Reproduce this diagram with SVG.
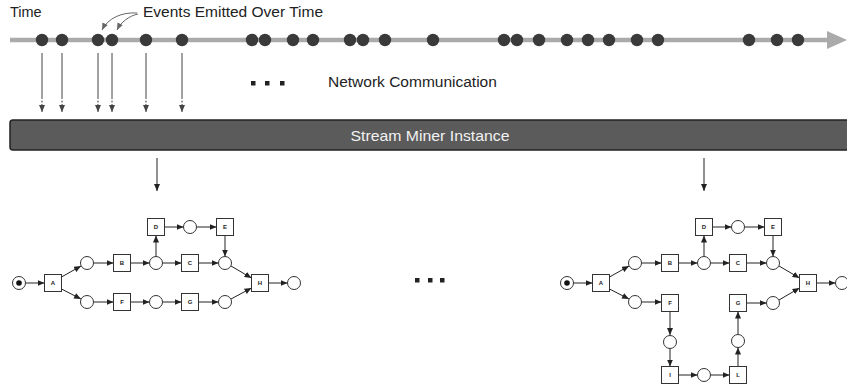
<svg xmlns="http://www.w3.org/2000/svg" width="847" height="387" viewBox="0 0 847 387">
<style>
.lbl{font-family:"Liberation Sans",Arial,sans-serif;fill:#222}
.dot{fill:#3a3a3a}
.pl{fill:#fff;stroke:#333;stroke-width:1}
.tr{fill:#fff;stroke:#333;stroke-width:1}
.tl{font-family:"Liberation Sans",Arial,sans-serif;font-size:6px;font-weight:bold;fill:#222;text-anchor:middle}
.arc{stroke:#222;stroke-width:1;fill:none;marker-end:url(#ah)}
.ev{stroke:#444;stroke-width:1;fill:none}
.evd{stroke:#444;stroke-width:1;fill:none;stroke-dasharray:2,1.5}
</style>
<defs>
<marker id="ah" markerUnits="userSpaceOnUse" markerWidth="8" markerHeight="6" refX="7" refY="3" orient="auto"><path d="M0,0 L7,3 L0,6 z" fill="#222"/></marker>
<marker id="ahg" markerUnits="userSpaceOnUse" markerWidth="8" markerHeight="6" refX="7" refY="3" orient="auto"><path d="M0,0 L7,3 L0,6 z" fill="#444"/></marker>
<marker id="ahc" markerUnits="userSpaceOnUse" markerWidth="8" markerHeight="6" refX="7" refY="3" orient="auto"><path d="M0,0 L7,3 L0,6 z" fill="#666"/></marker>
</defs>

<g id="timeline">
<line x1="10" y1="40" x2="830" y2="40" stroke="#aaa" stroke-width="4.5"/>
<polygon points="827,31 847,40 827,49" fill="#aaa"/>
<g class="dot">
<circle cx="42" cy="40" r="6.2"/><circle cx="62" cy="40" r="6.2"/><circle cx="98" cy="40" r="6.2"/><circle cx="112" cy="40" r="6.2"/>
<circle cx="146" cy="40" r="6.2"/><circle cx="182" cy="40" r="6.2"/><circle cx="252" cy="40" r="6.2"/><circle cx="265" cy="40" r="6.2"/>
<circle cx="293" cy="40" r="6.2"/><circle cx="313" cy="40" r="6.2"/><circle cx="350" cy="40" r="6.2"/><circle cx="363" cy="40" r="6.2"/>
<circle cx="385" cy="40" r="6.2"/><circle cx="433" cy="40" r="6.2"/><circle cx="504" cy="40" r="6.2"/><circle cx="517" cy="40" r="6.2"/>
<circle cx="539" cy="40" r="6.2"/><circle cx="567" cy="40" r="6.2"/><circle cx="588" cy="40" r="6.2"/><circle cx="609" cy="40" r="6.2"/>
<circle cx="637" cy="40" r="6.2"/><circle cx="658" cy="40" r="6.2"/><circle cx="749" cy="40" r="6.2"/><circle cx="777" cy="40" r="6.2"/>
<circle cx="798" cy="40" r="6.2"/>
</g>
</g>

<text class="lbl" x="10" y="17" font-size="14.5">Time</text>
<text class="lbl" x="143" y="17" font-size="15.5">Events Emitted Over Time</text>
<text class="lbl" x="328" y="87" font-size="15.5">Network Communication</text>

<g id="ellipsis-top" fill="#222">
<rect x="251" y="81" width="4.5" height="4.5"/><rect x="265" y="81" width="4.5" height="4.5"/><rect x="280" y="81" width="4.5" height="4.5"/>
</g>

<g id="stream-miner">
<rect x="10" y="120" width="850" height="30" rx="3" fill="#5b5b5b" stroke="#222" stroke-width="1.5"/>
<text x="430" y="141" font-family="'Liberation Sans',Arial,sans-serif" font-size="15" fill="#f2f2f2" text-anchor="middle" textLength="159" lengthAdjust="spacingAndGlyphs">Stream Miner Instance</text>
</g>

<g id="ellipsis-mid" fill="#222">
<rect x="415" y="278" width="4.5" height="4.5"/><rect x="428" y="278" width="4.5" height="4.5"/><rect x="440" y="278" width="4.5" height="4.5"/>
</g>

<g id="connectors">
<path d="M137,13 C122,12 108,18 102,30" stroke="#666" stroke-width="1" fill="none" marker-end="url(#ahc)"/>
<path d="M138,14 C129,16 121,22 117,30" stroke="#666" stroke-width="1" fill="none" marker-end="url(#ahc)"/>
<g>
<line class="ev" x1="42" y1="53" x2="42" y2="97"/><line class="evd" x1="42" y1="97" x2="42" y2="106"/><line class="ev" x1="42" y1="106" x2="42" y2="112" marker-end="url(#ahg)"/>
<line class="ev" x1="62" y1="53" x2="62" y2="97"/><line class="evd" x1="62" y1="97" x2="62" y2="106"/><line class="ev" x1="62" y1="106" x2="62" y2="112" marker-end="url(#ahg)"/>
<line class="ev" x1="98" y1="53" x2="98" y2="97"/><line class="evd" x1="98" y1="97" x2="98" y2="106"/><line class="ev" x1="98" y1="106" x2="98" y2="112" marker-end="url(#ahg)"/>
<line class="ev" x1="112" y1="53" x2="112" y2="97"/><line class="evd" x1="112" y1="97" x2="112" y2="106"/><line class="ev" x1="112" y1="106" x2="112" y2="112" marker-end="url(#ahg)"/>
<line class="ev" x1="146" y1="53" x2="146" y2="97"/><line class="evd" x1="146" y1="97" x2="146" y2="106"/><line class="ev" x1="146" y1="106" x2="146" y2="112" marker-end="url(#ahg)"/>
<line class="ev" x1="182" y1="53" x2="182" y2="97"/><line class="evd" x1="182" y1="97" x2="182" y2="106"/><line class="ev" x1="182" y1="106" x2="182" y2="112" marker-end="url(#ahg)"/>
</g>
<line class="arc" x1="157" y1="158" x2="157" y2="191"/>
<line class="arc" x1="704" y1="158" x2="704" y2="191"/>

<g id="arcs-left">
<line class="arc" x1="25.5" y1="283" x2="44.5" y2="283"/>
<line class="arc" x1="61.5" y1="277" x2="81" y2="266"/>
<line class="arc" x1="61.5" y1="289" x2="81" y2="299"/>
<line class="arc" x1="93.5" y1="263" x2="113.5" y2="263"/>
<line class="arc" x1="130.5" y1="263" x2="149.5" y2="263"/>
<line class="arc" x1="156" y1="256.5" x2="156" y2="235.5"/>
<line class="arc" x1="164.5" y1="227" x2="183.5" y2="227"/>
<line class="arc" x1="196.5" y1="227" x2="216.5" y2="227"/>
<line class="arc" x1="225" y1="235.5" x2="225" y2="256.5"/>
<line class="arc" x1="162.5" y1="263" x2="181.5" y2="263"/>
<line class="arc" x1="198.5" y1="263" x2="218.5" y2="263"/>
<line class="arc" x1="231" y1="266" x2="251.5" y2="278"/>
<line class="arc" x1="93.5" y1="302" x2="113.5" y2="302"/>
<line class="arc" x1="130.5" y1="302" x2="149.5" y2="302"/>
<line class="arc" x1="162.5" y1="302" x2="181.5" y2="302"/>
<line class="arc" x1="198.5" y1="302" x2="218.5" y2="302"/>
<line class="arc" x1="231" y1="299" x2="251.5" y2="288"/>
<line class="arc" x1="268.5" y1="283" x2="287.5" y2="283"/>
</g>
<g id="arcs-right" transform="translate(548,0)">
<line class="arc" x1="25.5" y1="283" x2="44.5" y2="283"/>
<line class="arc" x1="61.5" y1="277" x2="81" y2="266"/>
<line class="arc" x1="61.5" y1="289" x2="81" y2="299"/>
<line class="arc" x1="93.5" y1="263" x2="113.5" y2="263"/>
<line class="arc" x1="130.5" y1="263" x2="149.5" y2="263"/>
<line class="arc" x1="156" y1="256.5" x2="156" y2="235.5"/>
<line class="arc" x1="164.5" y1="227" x2="183.5" y2="227"/>
<line class="arc" x1="196.5" y1="227" x2="216.5" y2="227"/>
<line class="arc" x1="225" y1="235.5" x2="225" y2="256.5"/>
<line class="arc" x1="162.5" y1="263" x2="181.5" y2="263"/>
<line class="arc" x1="198.5" y1="263" x2="218.5" y2="263"/>
<line class="arc" x1="231" y1="266" x2="251.5" y2="278"/>
<line class="arc" x1="93.5" y1="302" x2="113.5" y2="302"/>
<line class="arc" x1="122" y1="311.5" x2="122" y2="335"/>
<line class="arc" x1="122" y1="348.5" x2="122" y2="366.5"/>
<line class="arc" x1="130.5" y1="375" x2="149.5" y2="375"/>
<line class="arc" x1="162.5" y1="375" x2="181.5" y2="375"/>
<line class="arc" x1="190" y1="366.5" x2="190" y2="347.5"/>
<line class="arc" x1="190" y1="334.5" x2="190" y2="311.5"/>
<line class="arc" x1="198.5" y1="303" x2="218.5" y2="303"/>
<line class="arc" x1="231" y1="300" x2="251.5" y2="288"/>
<line class="arc" x1="268.5" y1="283" x2="287.5" y2="283"/>
</g>
</g>

<g id="net-left">
<g id="L-start"><circle class="pl" cx="19" cy="283" r="6.5"/><circle cx="19" cy="283" r="2.8" fill="#111"/></g>
<g id="L-A"><rect class="tr" x="44.5" y="274.5" width="17" height="17"/><text class="tl" x="53" y="285">A</text></g>
<g id="L-p1"><circle class="pl" cx="87" cy="263" r="6.5"/></g>
<g id="L-p2"><circle class="pl" cx="87" cy="302" r="6.5"/></g>
<g id="L-B"><rect class="tr" x="113.5" y="254.5" width="17" height="17"/><text class="tl" x="122" y="265">B</text></g>
<g id="L-F"><rect class="tr" x="113.5" y="293.5" width="17" height="17"/><text class="tl" x="122" y="304">F</text></g>
<g id="L-p3"><circle class="pl" cx="156" cy="263" r="6.5"/></g>
<g id="L-p4"><circle class="pl" cx="156" cy="302" r="6.5"/></g>
<g id="L-D"><rect class="tr" x="147.5" y="218.5" width="17" height="17"/><text class="tl" x="156" y="229">D</text></g>
<g id="L-p5"><circle class="pl" cx="190" cy="227" r="6.5"/></g>
<g id="L-E"><rect class="tr" x="216.5" y="218.5" width="17" height="17"/><text class="tl" x="225" y="229">E</text></g>
<g id="L-C"><rect class="tr" x="181.5" y="254.5" width="17" height="17"/><text class="tl" x="190" y="265">C</text></g>
<g id="L-G"><rect class="tr" x="181.5" y="293.5" width="17" height="17"/><text class="tl" x="190" y="304">G</text></g>
<g id="L-p6"><circle class="pl" cx="225" cy="263" r="6.5"/></g>
<g id="L-p7"><circle class="pl" cx="225" cy="302" r="6.5"/></g>
<g id="L-H"><rect class="tr" x="251.5" y="274.5" width="17" height="17"/><text class="tl" x="260" y="285">H</text></g>
<g id="L-end"><circle class="pl" cx="294" cy="283" r="6.5"/></g>
</g>

<g id="net-right" transform="translate(548,0)">
<g id="R-start"><circle class="pl" cx="19" cy="283" r="6.5"/><circle cx="19" cy="283" r="2.8" fill="#111"/></g>
<g id="R-A"><rect class="tr" x="44.5" y="274.5" width="17" height="17"/><text class="tl" x="53" y="285">A</text></g>
<g id="R-p1"><circle class="pl" cx="87" cy="263" r="6.5"/></g>
<g id="R-p2"><circle class="pl" cx="87" cy="302" r="6.5"/></g>
<g id="R-B"><rect class="tr" x="113.5" y="254.5" width="17" height="17"/><text class="tl" x="122" y="265">B</text></g>
<g id="R-F"><rect class="tr" x="113.5" y="294.5" width="17" height="17"/><text class="tl" x="122" y="305">F</text></g>
<g id="R-pF"><circle class="pl" cx="122" cy="342" r="6.5"/></g>
<g id="R-I"><rect class="tr" x="113.5" y="366.5" width="17" height="17"/><text class="tl" x="122" y="377">I</text></g>
<g id="R-pIL"><circle class="pl" cx="156" cy="375" r="6.5"/></g>
<g id="R-L"><rect class="tr" x="181.5" y="366.5" width="17" height="17"/><text class="tl" x="190" y="377">L</text></g>
<g id="R-pL"><circle class="pl" cx="190" cy="341" r="6.5"/></g>
<g id="R-G"><rect class="tr" x="181.5" y="294.5" width="17" height="17"/><text class="tl" x="190" y="305">G</text></g>
<g id="R-p7"><circle class="pl" cx="225" cy="303" r="6.5"/></g>
<g id="R-p3"><circle class="pl" cx="156" cy="263" r="6.5"/></g>
<g id="R-D"><rect class="tr" x="147.5" y="218.5" width="17" height="17"/><text class="tl" x="156" y="229">D</text></g>
<g id="R-p5"><circle class="pl" cx="190" cy="227" r="6.5"/></g>
<g id="R-E"><rect class="tr" x="216.5" y="218.5" width="17" height="17"/><text class="tl" x="225" y="229">E</text></g>
<g id="R-C"><rect class="tr" x="181.5" y="254.5" width="17" height="17"/><text class="tl" x="190" y="265">C</text></g>
<g id="R-p6"><circle class="pl" cx="225" cy="263" r="6.5"/></g>
<g id="R-H"><rect class="tr" x="251.5" y="274.5" width="17" height="17"/><text class="tl" x="260" y="285">H</text></g>
<g id="R-end"><circle class="pl" cx="294" cy="283" r="6.5"/></g>
</g>
</svg>
